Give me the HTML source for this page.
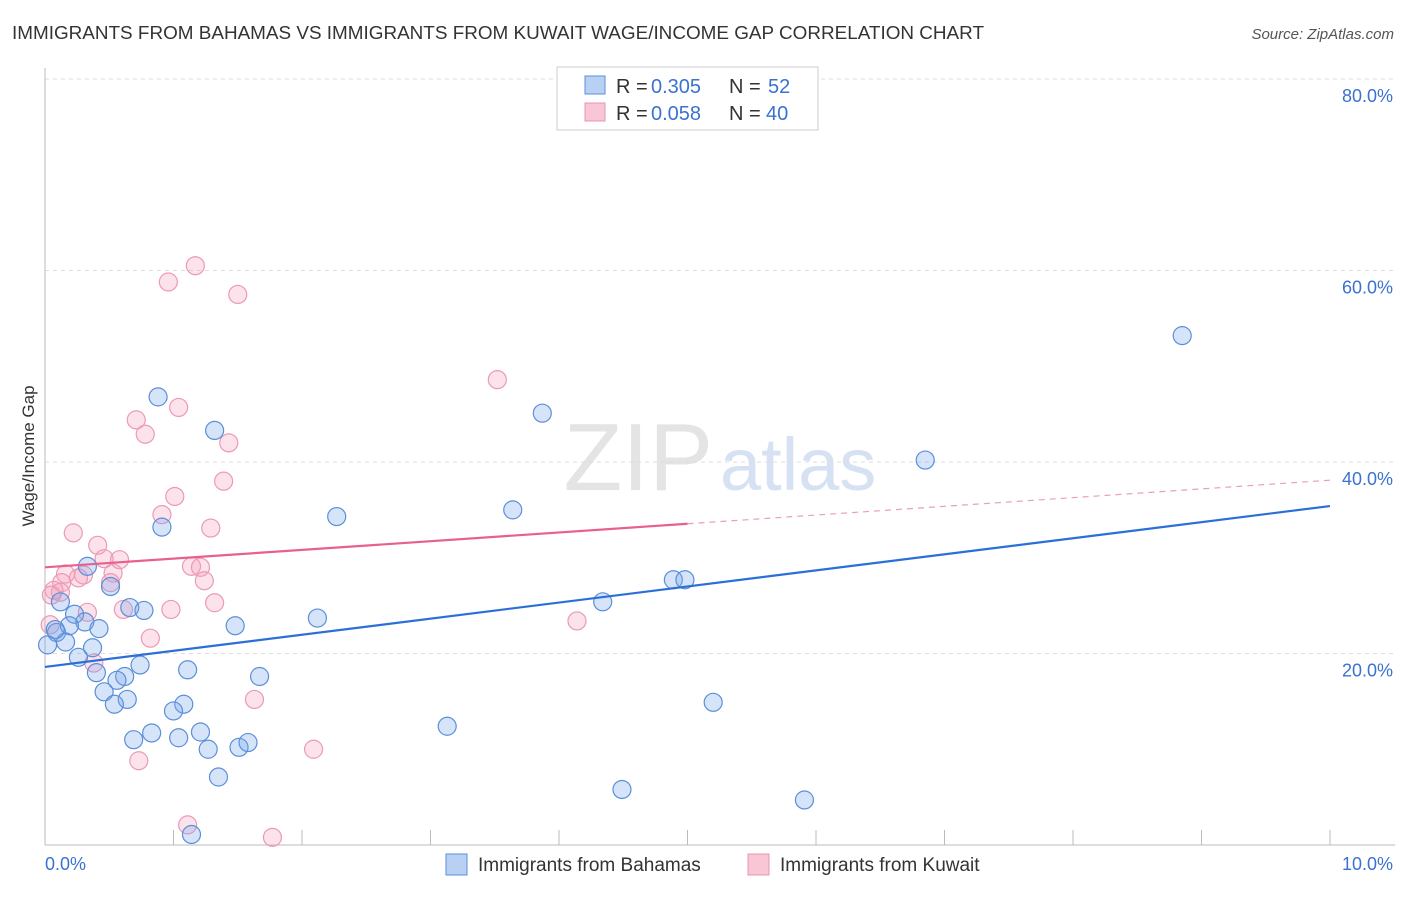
<!DOCTYPE html>
<html><head><meta charset="utf-8"><style>
body{margin:0;background:#fff;font-family:"Liberation Sans",sans-serif}
svg text{font-family:"Liberation Sans",sans-serif}
</style></head><body>
<svg id="chart" width="1406" height="892">
<text x="12" y="39" font-size="18" fill="#333" textLength="972" lengthAdjust="spacingAndGlyphs">IMMIGRANTS FROM BAHAMAS VS IMMIGRANTS FROM KUWAIT WAGE/INCOME GAP CORRELATION CHART</text>
<text x="1394" y="39" font-size="15" fill="#555" font-style="italic" text-anchor="end">Source: ZipAtlas.com</text>
<text x="713" y="490" font-size="96" fill="#e4e4e4" text-anchor="end" font-family="Liberation Serif">ZIP</text>
<text x="720" y="490" font-size="74" fill="#d6e2f3">atlas</text>
<g id="grid"></g>
<g id="axes"></g>
<g id="points"></g>
<g id="trends"></g>
<text x="34" y="456" font-size="17" fill="#333" text-anchor="middle" transform="rotate(-90 34 456)">Wage/Income Gap</text>
<g>
<rect x="557" y="67" width="261" height="63" fill="#fff" stroke="#ccc"/>
<rect x="585" y="76" width="20" height="18" fill="#b8d0f3" stroke="#5b8fd8"/>
<rect x="585" y="103" width="20" height="18" fill="#f9c6d6" stroke="#e895b0"/>
<text x="616" y="93" font-size="20" fill="#333">R =</text>
<text x="651" y="93" font-size="20" fill="#3a72d0">0.305</text>
<text x="729" y="93" font-size="20" fill="#333">N =</text>
<text x="768" y="93" font-size="20" fill="#3a72d0">52</text>
<text x="616" y="120" font-size="20" fill="#333">R =</text>
<text x="651" y="120" font-size="20" fill="#3a72d0">0.058</text>
<text x="729" y="120" font-size="20" fill="#333">N =</text>
<text x="766" y="120" font-size="20" fill="#3a72d0">40</text>
</g>
<g>
<rect x="446" y="854" width="21" height="21" fill="#b8d0f3" stroke="#5b8fd8"/>
<text x="478" y="871" font-size="19" fill="#333">Immigrants from Bahamas</text>
<rect x="748" y="854" width="21" height="21" fill="#f9c6d6" stroke="#e895b0"/>
<text x="780" y="871" font-size="19" fill="#333">Immigrants from Kuwait</text>
</g>
</svg>
<script>
const xTicks=[0,1,2,3,4,5,6,7,8,9,10];
const yTicks=[20,40,60,80];
const yTickLabels=["20.0%","40.0%","60.0%","80.0%"];
const xEndLabels=["0.0%","10.0%"];
const bahamasX=[0.88,1.32,0.91,0.33,0.51,0.66,0.77,0.12,0.23,0.31,0.09,0.19,0.42,0.16,0.37,0.26,0.74,0.40,0.62,0.56,0.46,0.64,0.54,1.11,1.08,1.00,1.21,0.83,0.69,1.04,1.27,1.51,1.58,1.35,1.14,1.48,1.67,2.12,2.27,3.13,3.64,3.87,4.34,4.49,4.89,4.98,5.20,5.91,6.85,8.85,0.02,0.08];
const bahamasY=[46.8,43.3,33.2,29.1,27.0,24.8,24.5,25.4,24.1,23.3,22.2,22.9,22.6,21.2,20.6,19.6,18.8,18.0,17.6,17.2,16.0,15.2,14.7,18.3,14.7,14.0,11.8,11.7,11.0,11.2,10.0,10.2,10.7,7.1,1.1,22.9,17.6,23.7,34.3,12.4,35.0,45.1,25.4,5.8,27.7,27.7,14.9,4.7,40.2,53.2,20.9,22.5];
const kuwaitX=[1.17,0.96,1.50,3.52,0.71,1.04,0.78,1.43,1.39,1.01,0.91,0.22,1.29,0.41,0.46,0.58,1.14,1.21,0.30,0.16,0.26,0.53,0.13,1.24,0.07,0.12,0.51,0.33,0.61,0.98,1.32,0.82,4.14,0.38,1.63,0.73,2.09,1.11,1.77,0.04,0.05];
const kuwaitY=[60.5,58.8,57.5,48.6,44.4,45.7,42.9,42.0,38.0,36.4,34.5,32.6,33.1,31.3,29.9,29.8,29.1,29.0,28.2,28.3,27.9,28.4,27.4,27.6,26.6,26.4,27.4,24.3,24.6,24.6,25.3,21.6,23.4,19.0,15.2,8.8,10.0,2.1,0.8,23.0,26.1];
const bahamasTrend=[18.6,35.4];
const kuwaitTrend=[29.0,38.1];
const kuwaitSolidEnd=5.0;
const NS="http://www.w3.org/2000/svg";
const X=v=>45+v*128.5;
const Y=v=>845-v*9.575;
function mk(tag,attrs,parent){const e=document.createElementNS(NS,tag);for(const k in attrs)e.setAttribute(k,attrs[k]);parent.appendChild(e);return e;}
const grid=document.getElementById('grid'),axes=document.getElementById('axes'),pts=document.getElementById('points'),tr=document.getElementById('trends');
yTicks.forEach((t,i)=>{
 const l=mk('line',{x1:45,x2:1395,y1:Y(t),y2:Y(t),stroke:'#ddd','stroke-dasharray':'4,4'},grid);
 
 
 const tx=mk('text',{x:1393,y:Y(t)+23,'font-size':18,fill:'#3a72d0','text-anchor':'end'},axes);
 tx.textContent=yTickLabels[i];
 
 
});
const ax=mk('line',{x1:45,x2:1395,y1:845,y2:845,stroke:'#bbb'},axes);


const ay=mk('line',{x1:45,x2:45,y1:68,y2:845,stroke:'#bbb'},axes);


xTicks.forEach(t=>{
 const l=mk('line',{x1:X(t),x2:X(t),y1:830,y2:845,stroke:'#bbb'},axes);
 
 
});
const xl0=mk('text',{x:45,y:870,'font-size':18,fill:'#3a72d0'},axes);xl0.textContent=xEndLabels[0];


const xl1=mk('text',{x:1393,y:870,'font-size':18,fill:'#3a72d0','text-anchor':'end'},axes);xl1.textContent=xEndLabels[1];


kuwaitX.forEach((x,i)=>{
 const c=mk('circle',{cx:X(x),cy:Y(kuwaitY[i]),r:9,fill:'rgba(244,160,190,0.3)',stroke:'#eb9ab5','stroke-width':1.2},pts);
 
 
});
bahamasX.forEach((x,i)=>{
 const c=mk('circle',{cx:X(x),cy:Y(bahamasY[i]),r:9,fill:'rgba(120,165,235,0.3)',stroke:'#5b8fd8','stroke-width':1.2},pts);
 
 
});
const bl=mk('line',{x1:X(0),y1:Y(bahamasTrend[0]),x2:X(10),y2:Y(bahamasTrend[1]),stroke:'#2a6fd6','stroke-width':2.2},tr);


const km=kuwaitTrend[0]+(kuwaitTrend[1]-kuwaitTrend[0])*kuwaitSolidEnd/10;
const kl=mk('line',{x1:X(0),y1:Y(kuwaitTrend[0]),x2:X(kuwaitSolidEnd),y2:Y(km),stroke:'#e8608f','stroke-width':2.2},tr);


const kd=mk('line',{x1:X(kuwaitSolidEnd),y1:Y(km),x2:X(10),y2:Y(kuwaitTrend[1]),stroke:'#e8a0b8','stroke-width':1.2,'stroke-dasharray':'6,5'},tr);


</script>
</body></html>
